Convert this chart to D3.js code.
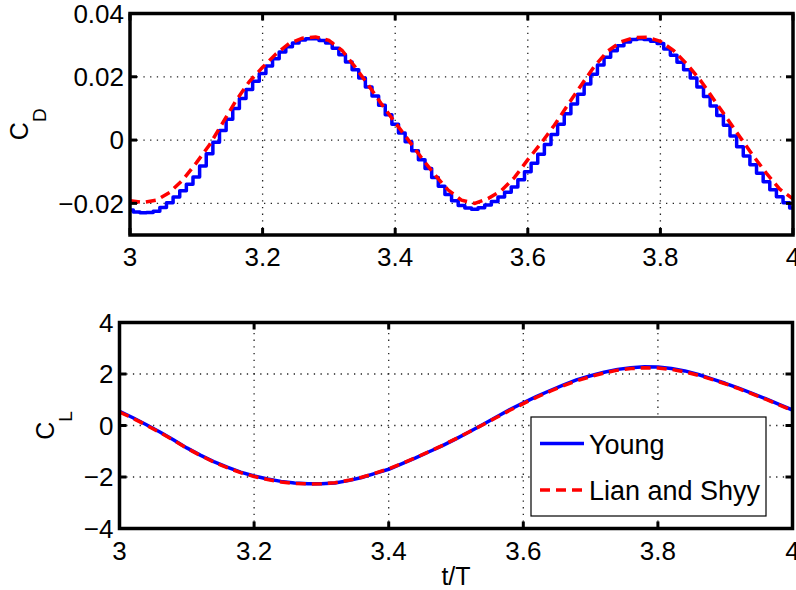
<!DOCTYPE html>
<html><head><meta charset="utf-8">
<script src="https://cdn.jsdelivr.net/npm/d3@7"></script>
<style>body{margin:0;background:#fff}svg{display:block;font-family:"Liberation Sans",Arial,Helvetica,sans-serif}</style>
</head><body><svg id="chart" width="796" height="590"></svg>
<script>
// ---------- data ----------
const tFine = [3.00,3.01,3.02,3.03,3.04,3.05,3.06,3.07,3.08,3.09,3.10,3.11,3.12,3.13,3.14,3.15,3.16,3.17,3.18,3.19,
3.20,3.21,3.22,3.23,3.24,3.25,3.26,3.27,3.28,3.29,3.30,3.31,3.32,3.33,3.34,3.35,3.36,3.37,3.38,3.39,
3.40,3.41,3.42,3.43,3.44,3.45,3.46,3.47,3.48,3.49,3.50,3.51,3.52,3.53,3.54,3.55,3.56,3.57,3.58,3.59,
3.60,3.61,3.62,3.63,3.64,3.65,3.66,3.67,3.68,3.69,3.70,3.71,3.72,3.73,3.74,3.75,3.76,3.77,3.78,3.79,
3.80,3.81,3.82,3.83,3.84,3.85,3.86,3.87,3.88,3.89,3.90,3.91,3.92,3.93,3.94,3.95,3.96,3.97,3.98,3.99,4.00];
const cdYoung = [-0.0221,-0.0227,-0.0230,-0.0229,-0.0225,-0.0213,-0.0198,-0.0180,-0.0160,-0.0140,
-0.0117,-0.0082,-0.0043,-0.0007,0.0030,0.0066,0.0100,0.0131,0.0160,0.0186,
0.0210,0.0234,0.0257,0.0278,0.0295,0.0307,0.0316,0.0320,0.0320,0.0315,
0.0307,0.0290,0.0270,0.0247,0.0222,0.0196,0.0168,0.0139,0.0110,0.0080,
0.0050,0.0022,-0.0005,-0.0034,-0.0062,-0.0090,-0.0118,-0.0146,-0.0172,-0.0192,
-0.0207,-0.0215,-0.0219,-0.0214,-0.0205,-0.0194,-0.0180,-0.0165,-0.0148,-0.0125,
-0.0100,-0.0073,-0.0045,-0.0014,0.0018,0.0050,0.0083,0.0114,0.0145,0.0177,
0.0208,0.0237,0.0262,0.0282,0.0298,0.0310,0.0318,0.0320,0.0318,0.0312,
0.0305,0.0288,0.0268,0.0246,0.0222,0.0196,0.0168,0.0138,0.0108,0.0078,
0.0047,0.0013,-0.0021,-0.0050,-0.0078,-0.0105,-0.0132,-0.0157,-0.0179,-0.0198,-0.0215];

const tCoarse = [3.00,3.02,3.04,3.06,3.08,3.10,3.12,3.14,3.16,3.18,3.20,3.22,3.24,3.26,3.28,3.30,3.32,3.34,3.36,3.38,
3.40,3.42,3.44,3.46,3.48,3.50,3.52,3.54,3.56,3.58,3.60,3.62,3.64,3.66,3.68,3.70,3.72,3.74,3.76,3.78,
3.80,3.82,3.84,3.86,3.88,3.90,3.92,3.94,3.96,3.98,4.00];
const cdLianShyy = [-0.0192,-0.0197,-0.0190,-0.0165,-0.0125,-0.0072,-0.0015,0.0055,0.0125,0.0185,
0.0230,0.0272,0.0305,0.0322,0.0326,0.0315,0.0283,0.0230,0.0172,0.0112,
0.0055,0.0000,-0.0057,-0.0110,-0.0158,-0.0190,-0.0200,-0.0185,-0.0160,-0.0118,
-0.0062,-0.0010,0.0047,0.0110,0.0172,0.0232,0.0280,0.0310,0.0324,0.0325,
0.0312,0.0283,0.0240,0.0190,0.0130,0.0070,0.0010,-0.0050,-0.0105,-0.0155,-0.0186];
const clYoung = [0.55,0.30,0.03,-0.25,-0.55,-0.87,-1.15,-1.40,-1.62,-1.81,
-1.96,-2.08,-2.17,-2.23,-2.26,-2.26,-2.23,-2.14,-2.02,-1.86,
-1.70,-1.48,-1.26,-1.02,-0.78,-0.52,-0.24,0.04,0.33,0.62,
0.88,1.13,1.36,1.58,1.78,1.93,2.07,2.18,2.24,2.28,
2.27,2.21,2.12,1.98,1.81,1.64,1.45,1.25,1.04,0.82,0.60];
const clLianShyy = [0.52,0.28,0.01,-0.27,-0.57,-0.88,-1.16,-1.42,-1.64,-1.83,
-1.98,-2.10,-2.19,-2.25,-2.27,-2.26,-2.22,-2.13,-2.01,-1.85,
-1.68,-1.47,-1.25,-1.01,-0.77,-0.51,-0.24,0.03,0.31,0.59,
0.85,1.10,1.33,1.55,1.74,1.90,2.04,2.15,2.21,2.24,
2.23,2.18,2.08,1.95,1.79,1.62,1.43,1.23,1.02,0.80,0.58];

const xTicks = [3,3.2,3.4,3.6,3.8,4];
const xTickLabels = ["3","3.2","3.4","3.6","3.8","4"];
const cdTicks = [-0.02,0,0.02,0.04];
const cdTickLabels = ["\u22120.02","0","0.02","0.04"];
const clTicks = [-4,-2,0,2,4];
const clTickLabels = ["\u22124","\u22122","0","2","4"];
const seriesNames = ["Young","Lian and Shyy"];
const xLabel = "t/T";

// ---------- drawing ----------
const svg = d3.select("#chart");
const BLUE = "#0000ff", RED = "#ff0000";

function panel(o){
  const x = d3.scaleLinear().domain([3,4]).range([o.left,o.right]);
  const y = d3.scaleLinear().domain(o.ydom).range([o.bottom,o.top]);
  const g = svg.append("g");
  const id = "clip"+o.name;
  svg.append("clipPath").attr("id",id).append("rect")
    .attr("x",o.left).attr("y",o.top).attr("width",o.right-o.left).attr("height",o.bottom-o.top);
  // grid
  const grid = g.append("g").attr("stroke","#222").attr("stroke-width",1.3).attr("stroke-dasharray","1.3,5.4");
  xTicks.slice(1,-1).forEach(t=>grid.append("line").attr("x1",x(t)).attr("x2",x(t)).attr("y1",o.bottom).attr("y2",o.top));
  o.yticks.forEach(v=>{ if(v>o.ydom[0] && v<o.ydom[1]) grid.append("line").attr("y1",y(v)).attr("y2",y(v)).attr("x1",o.left).attr("x2",o.right);});
  // lines
  const lg = g.append("g").attr("clip-path",`url(#${id})`).attr("fill","none");
  const lineA = d3.line().x((d,i)=>x(o.ta[i])).y(d=>y(d)).curve(o.stepA?d3.curveStep:d3.curveLinear);
  const lineB = d3.line().x((d,i)=>x(o.tb[i])).y(d=>y(d)).curve(d3.curveLinear);
  lg.append("path").datum(o.a).attr("d",lineA).attr("stroke",BLUE).attr("stroke-width",3.5).attr("stroke-linejoin","round");
  lg.append("path").datum(o.b).attr("d",lineB).attr("stroke",RED).attr("stroke-width",3.5).attr("stroke-dasharray","10,6");
  // frame
  g.append("rect").attr("x",o.left).attr("y",o.top).attr("width",o.right-o.left).attr("height",o.bottom-o.top)
    .attr("fill","none").attr("stroke","#000").attr("stroke-width",3.5);
  // ticks inward
  const tk = g.append("g").attr("stroke","#000").attr("stroke-width",3);
  const L=7;
  xTicks.forEach(t=>{
    tk.append("line").attr("x1",x(t)).attr("x2",x(t)).attr("y1",o.bottom).attr("y2",o.bottom-L);
    tk.append("line").attr("x1",x(t)).attr("x2",x(t)).attr("y1",o.top).attr("y2",o.top+L);
  });
  o.yticks.forEach(v=>{
    tk.append("line").attr("x1",o.left).attr("x2",o.left+L).attr("y1",y(v)).attr("y2",y(v));
    tk.append("line").attr("x1",o.right).attr("x2",o.right-L).attr("y1",y(v)).attr("y2",y(v));
  });
  // tick labels
  const tl = g.append("g").attr("font-size",26).attr("fill","#000");
  xTicks.forEach((t,i)=>tl.append("text").attr("x",x(t)).attr("y",o.bottom+31).attr("text-anchor","middle").text(xTickLabels[i]));
  o.yticks.forEach((v,i)=>tl.append("text").attr("x",o.left-6).attr("y",y(v)).attr("dy","0.36em").attr("text-anchor","end").text(o.ylabels[i]));
  // y label
  const yl = g.append("text").attr("transform",`translate(${o.labX},${(o.top+o.bottom)/2}) rotate(-90)`)
    .attr("text-anchor","middle").attr("font-size",25);
  yl.append("tspan").text("C");
  yl.append("tspan").attr("font-size",19).attr("dy",18).text(o.sub);
  return {x,y};
}

panel({name:"cd",left:130,right:793,top:13.5,bottom:235,ydom:[-0.03,0.04],yticks:cdTicks,ylabels:cdTickLabels,
  ta:tFine,a:cdYoung,tb:tCoarse,b:cdLianShyy,stepA:true,labX:28,sub:"D"});
panel({name:"cl",left:119.5,right:792.5,top:322.5,bottom:528.5,ydom:[-4,4],yticks:clTicks,ylabels:clTickLabels,
  ta:tCoarse,a:clYoung,tb:tCoarse,b:clLianShyy,stepA:false,labX:54,sub:"L"});

svg.append("text").attr("x",456).attr("y",585).attr("text-anchor","middle").attr("font-size",25).text(xLabel);

// legend
const lgd = svg.append("g");
lgd.append("rect").attr("x",531).attr("y",417).attr("width",235).attr("height",99).attr("fill","#fff").attr("stroke","#000").attr("stroke-width",1.2);
const legY = [443.5,490];
const legTextY = [453.5,499.5];
[BLUE,RED].forEach((c,i)=>{
  lgd.append("line").attr("x1",540).attr("x2",584).attr("y1",legY[i]).attr("y2",legY[i]).attr("stroke",c).attr("stroke-width",3.5)
    .attr("stroke-dasharray",i===1?"10,6":null);
  lgd.append("text").attr("x",589).attr("y",legTextY[i]).attr("font-size",27).text(seriesNames[i]);
});
</script></body></html>
